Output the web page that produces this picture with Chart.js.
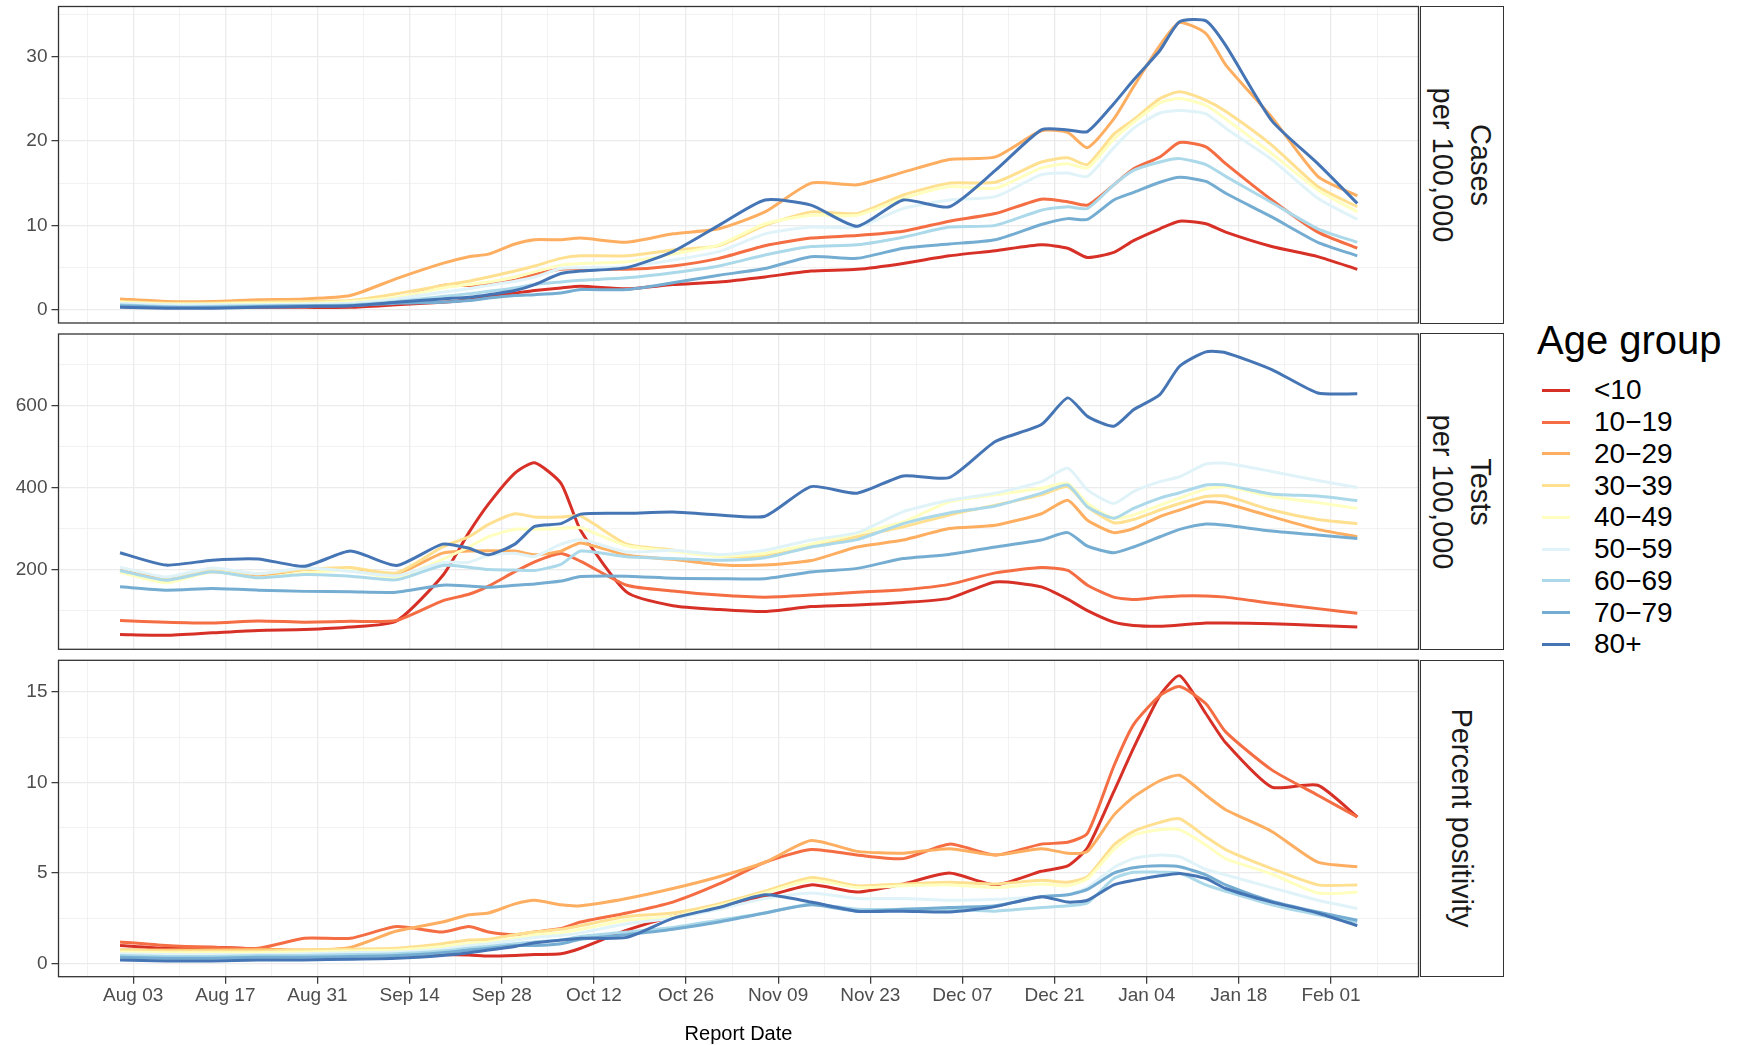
<!DOCTYPE html>
<html>
<head>
<meta charset="utf-8">
<title>Cases, tests and percent positivity by age group</title>
<script src="https://cdn.jsdelivr.net/npm/chart.js@4.4.1/dist/chart.umd.min.js"></script>
<style>
  html, body { margin: 0; padding: 0; background: #fff; }
  body { width: 1739px; height: 1045px; position: relative; overflow: hidden; font-family: "Liberation Sans", Arial, sans-serif; }
  canvas.panel { position: absolute; left: 0; }
  .strip { position: absolute; left: 1420px; width: 84px; border: 1.5px solid #333; box-sizing: border-box; background: #fff; }
  .strip span { position: absolute; left: 50%; top: 50%; transform: translate(-50%, -50%) rotate(90deg); white-space: nowrap; text-align: center; font-size: 29px; line-height: 38px; color: #1a1a1a; }
  .xtitle { position: absolute; left: 0; width: 1477px; top: 1022px; text-align: center; font-size: 20px; color: #000; }
  .ltitle { position: absolute; left: 1537px; top: 315px; font-size: 40px; line-height: 50px; color: #000; }
  .lkey { position: absolute; left: 1542px; width: 28px; height: 3px; }
  .llab { position: absolute; left: 1594px; font-size: 28px; line-height: 32px; color: #000; }
</style>
</head>
<body>
<div id="root"></div>
<script>
// age groups and their colours (RdYlBu)
const ageGroups = ["<10", "10\u221219", "20\u221229", "30\u221239", "40\u221249", "50\u221259", "60\u221269", "70\u221279", "80+"];
const colors = ["#D73027", "#F46D43", "#FDAE61", "#FEE090", "#FFFFBF", "#E0F3F8", "#ABD9E9", "#74ADD1", "#4575B4"];

// report dates
const reportDates = [
  "2020-08-01", "2020-08-08", "2020-08-15", "2020-08-22", "2020-08-29", "2020-09-05",
  "2020-09-12", "2020-09-19", "2020-09-23", "2020-09-26", "2020-09-30", "2020-10-03",
  "2020-10-07", "2020-10-10", "2020-10-17", "2020-10-24", "2020-10-31", "2020-11-07",
  "2020-11-14", "2020-11-21", "2020-11-28", "2020-12-05", "2020-12-12", "2020-12-19",
  "2020-12-23", "2020-12-26", "2020-12-30", "2021-01-02", "2021-01-06", "2021-01-09",
  "2021-01-13", "2021-01-16", "2021-01-23", "2021-01-30", "2021-02-05"
];

// x axis ticks
const xTickDates = ["2020-08-03", "2020-08-17", "2020-08-31", "2020-09-14", "2020-09-28", "2020-10-12", "2020-10-26",
  "2020-11-09", "2020-11-23", "2020-12-07", "2020-12-21", "2021-01-04", "2021-01-18", "2021-02-01"];
const xTickLabels = ["Aug 03", "Aug 17", "Aug 31", "Sep 14", "Sep 28", "Oct 12", "Oct 26",
  "Nov 09", "Nov 23", "Dec 07", "Dec 21", "Jan 04", "Jan 18", "Feb 01"];

// Cases per 100,000
const casesLt10 = [0.4,0.3,0.3,0.3,0.3,0.3, 0.6,0.9,1.2,1.6,2.0,2.3, 2.6,2.8,2.5,3.0,3.3,3.9, 4.6,4.8,5.5,6.4,7.0,7.7, 7.3,6.2,6.8,8.2,9.6,10.5, 10.2,9.2,7.5,6.3,4.8];
const cases10 = [0.6,0.5,0.5,0.6,0.6,0.7, 1.3,2.9,2.9,3.0,3.5,4.2, 4.8,4.9,4.8,5.2,6.1,7.6, 8.5,8.8,9.3,10.5,11.4,13.1, 12.8,12.4,14.8,16.7,18.1,19.8, 19.3,17.3,13.0,9.2,7.3];
const cases20 = [1.3,1.0,1.0,1.2,1.3,1.7, 3.7,5.5,6.3,6.6,7.8,8.3, 8.3,8.5,8.0,9.0,9.6,11.6, 15.0,14.8,16.3,17.8,18.1,21.2, 21.0,19.2,22.6,26.4,31.3,34.0, 32.7,29.0,22.8,15.8,13.5];
const cases30 = [1.0,0.8,0.8,0.9,1.0,1.1, 1.9,2.9,3.4,3.9,4.6,5.2, 6.1,6.4,6.4,7.1,7.6,10.0, 11.6,11.4,13.6,15.0,15.1,17.5, 18.0,17.2,20.8,22.5,25.0,25.8, 24.8,23.5,19.5,14.6,12.2];
const cases40 = [0.9,0.7,0.7,0.8,0.8,1.0, 1.5,2.6,3.0,3.3,3.9,4.5, 5.3,5.5,5.7,6.6,7.7,10.2, 11.2,11.2,13.2,14.6,14.4,16.8, 17.3,16.8,20.2,22.2,24.5,25.0, 24.2,22.6,18.5,14.2,11.6];
const cases50 = [0.8,0.6,0.6,0.6,0.7,0.8, 1.3,2.1,2.5,2.9,3.4,3.9, 4.9,5.0,5.1,5.9,6.9,9.0, 9.8,9.8,12.0,13.0,13.4,16.0, 16.2,15.8,19.2,21.5,23.3,23.6, 23.2,21.5,17.8,13.2,10.7];
const cases60 = [0.6,0.4,0.4,0.5,0.5,0.6, 1.0,1.6,1.9,2.2,2.6,3.0, 3.3,3.5,3.8,4.4,5.2,6.5, 7.5,7.7,8.6,9.8,10.0,11.8, 12.2,12.0,14.8,16.5,17.5,17.9, 17.2,15.8,12.7,9.6,8.0];
const cases70 = [0.5,0.3,0.3,0.4,0.5,0.5, 0.8,0.9,1.1,1.4,1.7,1.8, 2.0,2.4,2.4,3.2,4.1,4.9, 6.3,6.1,7.3,7.8,8.3,10.1, 10.8,10.7,13.0,13.9,15.1,15.7, 15.2,13.8,11.0,8.0,6.4];
const cases80 = [0.3,0.2,0.2,0.3,0.4,0.5, 0.9,1.3,1.5,1.8,2.3,3.0, 4.3,4.6,5.0,6.9,10.0,13.0, 12.4,9.9,13.0,12.2,16.5,21.3, 21.3,21.1,24.4,27.2,30.7,34.1, 34.2,31.3,22.4,17.3,12.6];

// Tests per 100,000
const testsLt10 = [42,40,46,52,54,60, 75,185,290,360,435,460, 410,295,145,112,103,98, 110,114,120,130,170,158, 128,100,72,64,62,65, 70,70,68,64,60];
const tests10 = [76,72,70,75,72,74, 76,124,140,160,195,219, 239,220,162,148,138,133, 138,145,151,164,192,205, 198,162,133,127,133,136, 136,133,118,105,94];
const tests20 = [198,178,195,185,200,198, 190,240,245,246,245,236, 245,265,235,225,212,211, 222,255,272,300,308,336, 369,320,290,300,329,345, 365,361,329,298,280];
const tests30 = [194,175,198,190,200,205, 192,255,280,310,336,328, 328,330,262,248,233,234, 255,280,304,333,357,382, 402,353,314,322,345,361, 378,379,345,322,312];
const tests40 = [194,168,195,180,192,198, 180,225,255,280,298,298, 300,302,258,245,232,240, 262,288,316,365,382,398, 410,361,325,333,357,374, 396,402,378,363,349];
const tests50 = [206,182,204,190,204,196, 185,217,218,235,240,232, 262,273,243,247,237,247, 272,290,341,369,386,414, 447,394,361,390,414,426, 457,459,439,417,400];
const tests60 = [198,174,195,180,188,184, 175,210,206,200,199,198, 213,245,231,227,223,229, 255,273,312,338,355,386, 406,353,325,349,374,387, 406,406,384,379,368];
const tests70 = [158,150,154,150,147,146, 145,162,160,157,162,165, 172,183,184,179,178,178, 194,203,227,237,255,272, 290,257,241,255,280,298, 311,308,294,284,276];
const tests80 = [241,211,223,226,208,245, 210,262,252,236,262,305, 312,335,337,340,333,330, 402,386,428,424,512,553, 618,573,549,589,626,695, 730,728,687,630,628];

// Percent positivity
const posLt10 = [1.0,0.85,0.9,0.8,0.65,0.6, 0.6,0.5,0.48,0.42,0.45,0.5, 0.55,0.85,1.85,2.6,3.1,3.7, 4.35,3.95,4.4,5.0,4.35,5.1, 5.4,6.4,9.5,11.9,14.8,15.9, 13.8,12.2,9.75,9.85,8.1];
const pos10 = [1.2,1.0,0.9,0.85,1.4,1.4, 2.05,1.75,2.05,1.75,1.6,1.75, 1.95,2.3,2.8,3.4,4.4,5.6, 6.3,6.0,5.8,6.6,6.0,6.6, 6.7,7.2,10.9,13.2,14.8,15.3, 14.35,12.8,10.7,9.3,8.1];
const pos20 = [0.75,0.75,0.75,0.8,0.75,0.9, 1.8,2.3,2.7,2.8,3.3,3.5, 3.25,3.2,3.6,4.15,4.8,5.6, 6.8,6.2,6.1,6.35,6.0,6.35, 6.1,6.2,8.2,9.2,10.1,10.4, 9.3,8.5,7.3,5.6,5.35];
const pos30 = [0.75,0.7,0.7,0.7,0.75,0.8, 0.85,1.1,1.3,1.35,1.6,1.75, 1.9,2.1,2.6,2.8,3.3,4.0, 4.75,4.3,4.4,4.5,4.4,4.6, 4.5,4.8,6.55,7.3,7.8,8.0, 7.0,6.3,5.25,4.35,4.35];
const pos40 = [0.65,0.6,0.6,0.6,0.65,0.7, 0.75,0.95,1.1,1.2,1.4,1.6, 1.7,1.9,2.4,2.6,3.2,3.9, 4.6,4.2,4.3,4.35,4.2,4.4, 4.3,4.7,6.3,7.1,7.4,7.4, 6.55,5.8,4.95,3.9,3.95];
const pos50 = [0.55,0.5,0.5,0.5,0.55,0.6, 0.65,0.8,1.0,1.1,1.3,1.45, 1.55,1.7,2.2,2.5,3.0,3.6, 3.9,3.6,3.6,3.5,3.55,3.7, 3.8,4.2,5.3,5.8,6.0,5.9, 5.2,4.9,4.2,3.5,3.05];
const pos60 = [0.45,0.4,0.4,0.45,0.45,0.5, 0.55,0.7,0.85,0.95,1.1,1.2, 1.3,1.5,1.75,2.0,2.4,2.8, 3.3,3.0,3.0,3.0,2.9,3.1, 3.2,3.35,4.7,5.05,5.05,5.0, 4.35,4.0,3.25,2.7,2.3];
const pos70 = [0.35,0.3,0.3,0.35,0.35,0.4, 0.45,0.6,0.75,0.85,1.0,1.0, 1.1,1.35,1.6,1.9,2.3,2.8, 3.25,2.9,3.0,3.1,3.2,3.7, 3.8,4.1,5.0,5.3,5.4,5.35, 4.9,4.35,3.45,2.85,2.4];
const pos80 = [0.2,0.15,0.15,0.2,0.2,0.25, 0.3,0.45,0.6,0.75,0.95,1.15, 1.3,1.4,1.45,2.5,3.1,3.8, 3.4,2.9,2.9,2.85,3.15,3.7, 3.4,3.5,4.35,4.6,4.85,4.98, 4.7,4.15,3.4,2.8,2.1];

// y axis ticks
const casesTicks = [0, 10, 20, 30];
const testsTicks = [200, 400, 600];
const posTicks = [0, 5, 10, 15];

const dayZero = Date.UTC(2020, 7, 3);
function toDay(s) {
  const [y, m, d] = s.split("-").map(Number);
  return Math.round((Date.UTC(y, m - 1, d) - dayZero) / 86400000);
}

const days = reportDates.map(toDay);
const xMajor = xTickDates.map(toDay);
const xAll = [xMajor[0] - 7];
xMajor.forEach(v => xAll.push(v, v + 7));
const xMin = -11.35, xMax = 195.3;

const CANVAS_W = 1425;
const GRID = "#EBEBEB";
const INK = "#333333";
const TICK_TEXT = "#4D4D4D";

Chart.defaults.font.family = '"Liberation Sans", Arial, sans-serif';

const panels = [
  { label: ["Cases", "per 100,000"], series: [casesLt10, cases10, cases20, cases30, cases40, cases50, cases60, cases70, cases80],
    ticks: casesTicks, step: 5, yMin: -1.55, yMax: 35.9, top: 0, height: 330, padTop: 6.5, padBottom: 7, showX: false },
  { label: ["Tests", "per 100,000"], series: [testsLt10, tests10, tests20, tests30, tests40, tests50, tests60, tests70, tests80],
    ticks: testsTicks, step: 100, yMin: 6, yMax: 773.5, top: 330, height: 325, padTop: 4, padBottom: 5.7, showX: false },
  { label: ["Percent positivity"], series: [posLt10, pos10, pos20, pos30, pos40, pos50, pos60, pos70, pos80],
    ticks: posTicks, step: 2.5, yMin: -0.72, yMax: 16.75, top: 655, height: 390, padTop: 5.3, padBottom: 28.3, showX: true }
];

const panelBorder = {
  id: "panelBorder",
  afterDraw(chart) {
    const a = chart.chartArea;
    const ctx = chart.ctx;
    ctx.save();
    ctx.strokeStyle = INK;
    ctx.lineWidth = 1.3;
    ctx.strokeRect(a.left, a.top, a.right - a.left, a.bottom - a.top);
    ctx.restore();
  }
};

// keep the scales from reserving room for half tick labels
function noScalePadding(s) {
  s.paddingTop = 0;
  s.paddingBottom = 0;
  s.paddingLeft = 0;
  s.paddingRight = 0;
}

const root = document.getElementById("root");

panels.forEach(p => {
  const canvas = document.createElement("canvas");
  canvas.className = "panel";
  canvas.width = CANVAS_W;
  canvas.height = p.height;
  canvas.style.top = p.top + "px";
  canvas.style.width = CANVAS_W + "px";
  canvas.style.height = p.height + "px";
  root.appendChild(canvas);

  // major ticks plus minor ones half way between
  const yAll = [];
  for (let v = p.ticks[0] - p.step; v <= p.yMax; v += p.step) {
    if (v >= p.yMin) yAll.push(+v.toFixed(3));
  }
  const isYMajor = v => p.ticks.includes(v);
  const isXMajor = v => xMajor.includes(v);

  new Chart(canvas, {
    type: "line",
    data: {
      datasets: ageGroups.map((g, k) => ({
        label: g,
        data: days.map((d, i) => ({ x: d, y: p.series[k][i] })),
        borderColor: colors[k],
        backgroundColor: colors[k],
        borderWidth: 3,
        pointRadius: 0,
        tension: 0.2,
        fill: false,
        order: ageGroups.length - k
      }))
    },
    options: {
      responsive: false,
      animation: false,
      devicePixelRatio: 1,
      layout: { padding: { left: 0, right: CANVAS_W - 1418.5, top: p.padTop, bottom: p.padBottom } },
      plugins: { legend: { display: false }, tooltip: { enabled: false } },
      scales: {
        x: {
          type: "linear",
          min: xMin,
          max: xMax,
          afterBuildTicks: s => { s.ticks = xAll.map(v => ({ value: v })); },
          afterFit: s => { s.height = p.showX ? 40 : 0; noScalePadding(s); },
          border: { display: false },
          grid: {
            color: GRID,
            lineWidth: c => (c.tick && isXMajor(c.tick.value)) ? 1.3 : 0.65,
            drawTicks: p.showX,
            tickLength: 7,
            tickWidth: 1.2,
            tickColor: c => (c.tick && isXMajor(c.tick.value)) ? INK : "rgba(0,0,0,0)"
          },
          ticks: {
            display: p.showX,
            autoSkip: false,
            maxRotation: 0,
            padding: 1,
            color: TICK_TEXT,
            font: { size: 19 },
            callback: v => {
              const i = xMajor.indexOf(v);
              return i >= 0 ? xTickLabels[i] : "";
            }
          }
        },
        y: {
          type: "linear",
          min: p.yMin,
          max: p.yMax,
          afterBuildTicks: s => { s.ticks = yAll.map(v => ({ value: v })); },
          afterFit: s => { s.width = 58.5; noScalePadding(s); },
          border: { display: false },
          grid: {
            color: GRID,
            lineWidth: c => (c.tick && isYMajor(c.tick.value)) ? 1.3 : 0.65,
            drawTicks: true,
            tickLength: 7,
            tickWidth: 1.2,
            tickColor: c => (c.tick && isYMajor(c.tick.value)) ? INK : "rgba(0,0,0,0)"
          },
          ticks: {
            autoSkip: false,
            padding: 4,
            color: TICK_TEXT,
            font: { size: 19 },
            callback: v => isYMajor(v) ? String(v) : ""
          }
        }
      }
    },
    plugins: [panelBorder]
  });

  // facet strip on the right
  const strip = document.createElement("div");
  strip.className = "strip";
  const chartTop = p.top + p.padTop;
  const chartBottom = p.top + p.height - p.padBottom - (p.showX ? 40 : 0);
  strip.style.top = (chartTop - 0.75) + "px";
  strip.style.height = (chartBottom - chartTop + 1.5) + "px";
  const span = document.createElement("span");
  span.innerHTML = p.label.join("<br>");
  strip.appendChild(span);
  root.appendChild(strip);
});

// x axis title
const xt = document.createElement("div");
xt.className = "xtitle";
xt.textContent = "Report Date";
root.appendChild(xt);

// legend
const lt = document.createElement("div");
lt.className = "ltitle";
lt.textContent = "Age group";
root.appendChild(lt);
ageGroups.forEach((g, k) => {
  const cy = 390.4 + 31.75 * k;
  const key = document.createElement("div");
  key.className = "lkey";
  key.style.top = (cy - 1.5) + "px";
  key.style.background = colors[k];
  root.appendChild(key);
  const lab = document.createElement("div");
  lab.className = "llab";
  lab.style.top = (cy - 16) + "px";
  lab.textContent = g;
  root.appendChild(lab);
});
</script>
</body>
</html>
